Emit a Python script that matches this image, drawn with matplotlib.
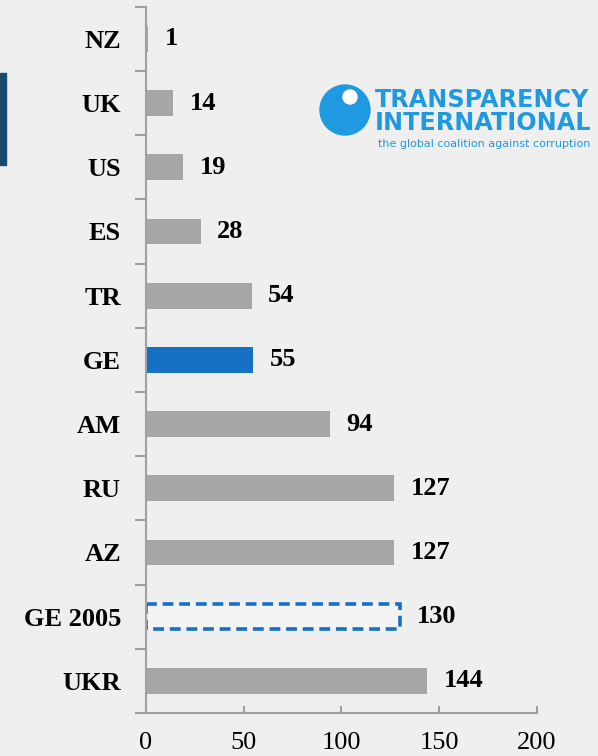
import matplotlib.pyplot as plt
import matplotlib.patches as mpatches

countries = ["NZ", "UK", "US", "ES", "TR", "GE", "AM", "RU", "AZ", "GE 2005", "UKR"]
ranks = [1, 14, 19, 28, 54, 55, 94, 127, 127, 130, 144]
x_ticks = [0, 50, 100, 150, 200]

GRAY = "#a6a6a6"
BLUE = "#1670c4"
AXIS = "#a0a0a0"
LOGO = "#1f9ae0"

plt.rcParams["font.family"] = ["Liberation Serif", "DejaVu Serif"]

W, H = 598, 756
fig = plt.figure(figsize=(W / 100, H / 100), dpi=100, facecolor="#efefef")
ax = fig.add_axes([0.244, 0.057, 0.654, 0.934])
ax.set_facecolor("none")

ypos = list(range(len(countries)))
colors = [BLUE if c == "GE" else GRAY for c in countries]
for y, c, v, col in zip(ypos, countries, ranks, colors):
    if c == "GE 2005":
        ax.barh(y, v, height=0.38, color="#f3f3f3", edgecolor=BLUE,
                linestyle=(0, (3, 1.6)), linewidth=2.6)
    else:
        ax.barh(y, v, height=0.4, color=col, edgecolor="none")
    ax.annotate(str(v), (v, y), xytext=(12, 0), textcoords="offset points",
                ha="left", va="center", fontsize=19, fontweight="bold")

ax.set_ylim(len(countries) - 0.5, -0.5)
ax.set_xlim(0, 200)
ax.set_yticks(ypos)
ax.set_yticklabels(countries, fontsize=19, fontweight="bold")
ax.set_yticks([y - 0.5 for y in ypos] + [len(countries) - 0.5], minor=True)
ax.tick_params(axis="y", which="major", length=0, pad=18)
ax.tick_params(axis="y", which="minor", length=8, color=AXIS, width=1.5)
ax.set_xticks(x_ticks)
ax.set_xticklabels([str(t) for t in x_ticks], fontsize=19)
ax.tick_params(axis="x", direction="in", length=5, color=AXIS, width=1.5, pad=14)

for side in ["top", "right"]:
    ax.spines[side].set_visible(False)
for side in ["left", "bottom"]:
    ax.spines[side].set_color(AXIS)
    ax.spines[side].set_linewidth(1.5)

# logo
fig.patches.append(mpatches.Ellipse((345 / W, 1 - 110 / H), 50 / W, 50 / H,
                                    transform=fig.transFigure, color=LOGO))
fig.patches.append(mpatches.Ellipse((350 / W, 1 - 97 / H), 14 / W, 14 / H,
                                    transform=fig.transFigure, color="white"))
fig.patches.append(mpatches.Rectangle((0, 1 - 165 / H), 6 / W, 92 / H,
                                      transform=fig.transFigure, color="#1b4a6e"))
fig.text(375 / W, 1 - 100 / H, "TRANSPARENCY", color=LOGO, fontsize=17.2,
         fontweight="bold", family="DejaVu Sans", va="center", ha="left")
fig.text(375 / W, 1 - 123 / H, "INTERNATIONAL", color=LOGO, fontsize=17.2,
         fontweight="bold", family="DejaVu Sans", va="center", ha="left")
fig.text(378 / W, 1 - 144 / H, "the global coalition against corruption",
         color=LOGO, fontsize=8, family="DejaVu Sans", va="center", ha="left")

fig.savefig("out.png", dpi=100, facecolor=fig.get_facecolor())
